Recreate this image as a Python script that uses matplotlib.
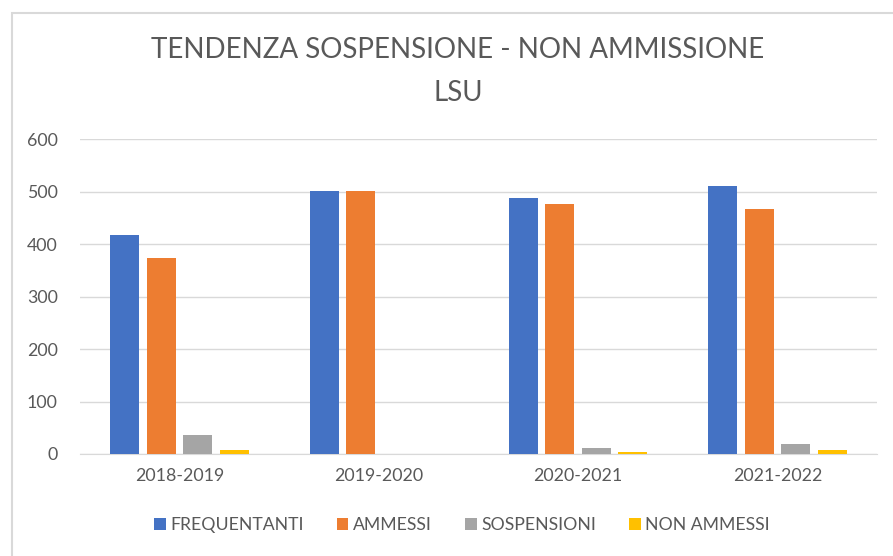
import matplotlib
matplotlib.use("Agg")
import matplotlib.pyplot as plt
from matplotlib.patches import Rectangle
import numpy as np

plt.rcParams['font.family'] = ['Lato', 'DejaVu Sans']

categories = ["2018-2019", "2019-2020", "2020-2021", "2021-2022"]
series_names = ["FREQUENTANTI", "AMMESSI", "SOSPENSIONI", "NON AMMESSI"]
frequentanti = [417, 502, 489, 511]
ammessi = [373, 502, 476, 467]
sospensioni = [36, 0, 11, 20]
non_ammessi = [8, 0, 4, 8]
colors = ["#4472C4", "#ED7D31", "#A5A5A5", "#FFC000"]
yticks = [0, 100, 200, 300, 400, 500, 600]

fig = plt.figure(figsize=(8.93, 5.56), dpi=100)
fig.patch.set_facecolor("white")
# outer frame
fig.add_artist(Rectangle((12/893, -0.1), 1.2, 1 - 13/556 + 0.1, transform=fig.transFigure,
                         fill=False, edgecolor="#d9d9d9", linewidth=1.5))

ax = fig.add_axes([80/893, 1 - 454/556, (877 - 80)/893, (454 - 139.3)/556])
x = np.arange(len(categories))
slot = 0.183
width = 0.146
data = [frequentanti, ammessi, sospensioni, non_ammessi]
for i, (vals, name, c) in enumerate(zip(data, series_names, colors)):
    ax.bar(x + (i - 1.5) * slot, vals, width, color=c, label=name, zorder=3)

ax.set_xlim(-0.5, len(categories) - 0.5)
ax.set_ylim(0, 600)
ax.set_yticks(yticks)
ax.set_xticks(x)
ax.set_xticklabels(categories)
ax.yaxis.grid(True, color="#d9d9d9", linewidth=1, zorder=0)
for s in ["top", "right", "left"]:
    ax.spines[s].set_visible(False)
ax.spines["bottom"].set_color("#d9d9d9")
ax.tick_params(axis="both", length=0, labelsize=12.8, colors="#595959")
ax.tick_params(axis="y", pad=16)
ax.tick_params(axis="x", pad=10)

fig.text(458/893, 1 - 50/556, "TENDENZA SOSPENSIONE - NON AMMISSIONE", ha="center", va="center",
         fontsize=20, color="#595959")
fig.text(458/893, 1 - 93/556, "LSU", ha="center", va="center", fontsize=20, color="#595959")

leg = fig.legend(loc="center", bbox_to_anchor=(462/893, 1 - 525/556), ncol=4, frameon=False,
                 fontsize=12.7, handlelength=0.65, handleheight=0.65, handletextpad=0.25,
                 columnspacing=1.9)
for t in leg.get_texts():
    t.set_color("#595959")

fig.savefig("out.png", dpi=100, facecolor="white")
